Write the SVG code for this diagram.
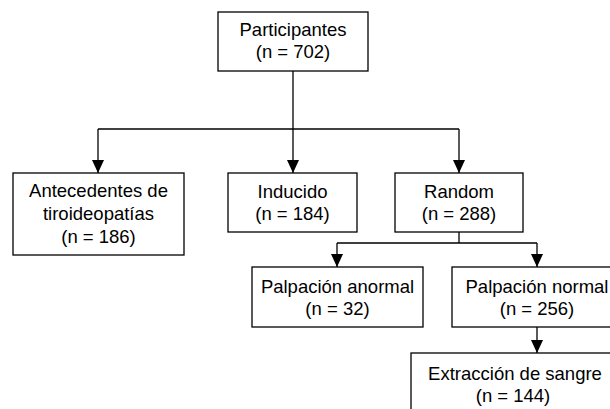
<svg xmlns="http://www.w3.org/2000/svg" width="610" height="409" viewBox="0 0 610 409">
<style>
.b{fill:#fff;stroke:#000;stroke-width:1.3}
text{font-family:"Liberation Sans",Arial,sans-serif;font-size:18.5px;fill:#000;text-anchor:middle}
.c{fill:none;stroke:#000;stroke-width:1.3}
</style>
<defs>
<marker id="ah" markerUnits="userSpaceOnUse" markerWidth="14" markerHeight="12" refX="13" refY="6" orient="auto">
<path d="M0,0 L13,6 L0,12 Z" fill="#000"/>
</marker>
</defs>
<rect width="610" height="409" fill="#fff"/>
<g id="connectors">
<path class="c" d="M293,71 V173" marker-end="url(#ah)"/>
<path class="c" d="M98,129 H459"/>
<path class="c" d="M98,129 V173" marker-end="url(#ah)"/>
<path class="c" d="M459,129 V173" marker-end="url(#ah)"/>
<path class="c" d="M459,232 V243 M337,243 H537"/>
<path class="c" d="M337,243 V267" marker-end="url(#ah)"/>
<path class="c" d="M537,243 V267" marker-end="url(#ah)"/>
<path class="c" d="M537,327 V353" marker-end="url(#ah)"/>
</g>
<g id="participantes">
<rect class="b" x="218" y="12" width="150" height="59"/>
<text x="293" y="36">Participantes</text>
<text x="293" y="58">(n = 702)</text>
</g>
<g id="antecedentes">
<rect class="b" x="13" y="173" width="171" height="82"/>
<text x="98.5" y="197">Antecedentes de</text>
<text x="98.5" y="220">tiroideopatías</text>
<text x="98.5" y="243">(n = 186)</text>
</g>
<g id="inducido">
<rect class="b" x="228" y="173" width="129" height="59"/>
<text x="292.5" y="198">Inducido</text>
<text x="292.5" y="220">(n = 184)</text>
</g>
<g id="random">
<rect class="b" x="395" y="173" width="128" height="59"/>
<text x="459" y="198">Random</text>
<text x="459" y="220">(n = 288)</text>
</g>
<g id="palpacion-anormal">
<rect class="b" x="252" y="267" width="171" height="60"/>
<text x="337.5" y="293">Palpación anormal</text>
<text x="337.5" y="315">(n = 32)</text>
</g>
<g id="palpacion-normal">
<rect class="b" x="452" y="267" width="170" height="60"/>
<text x="537" y="293">Palpación normal</text>
<text x="537" y="315">(n = 256)</text>
</g>
<g id="extraccion">
<rect class="b" x="411" y="353" width="252" height="70"/>
<text x="515" y="380">Extracción de sangre</text>
<text x="513" y="402">(n = 144)</text>
</g>
</svg>
